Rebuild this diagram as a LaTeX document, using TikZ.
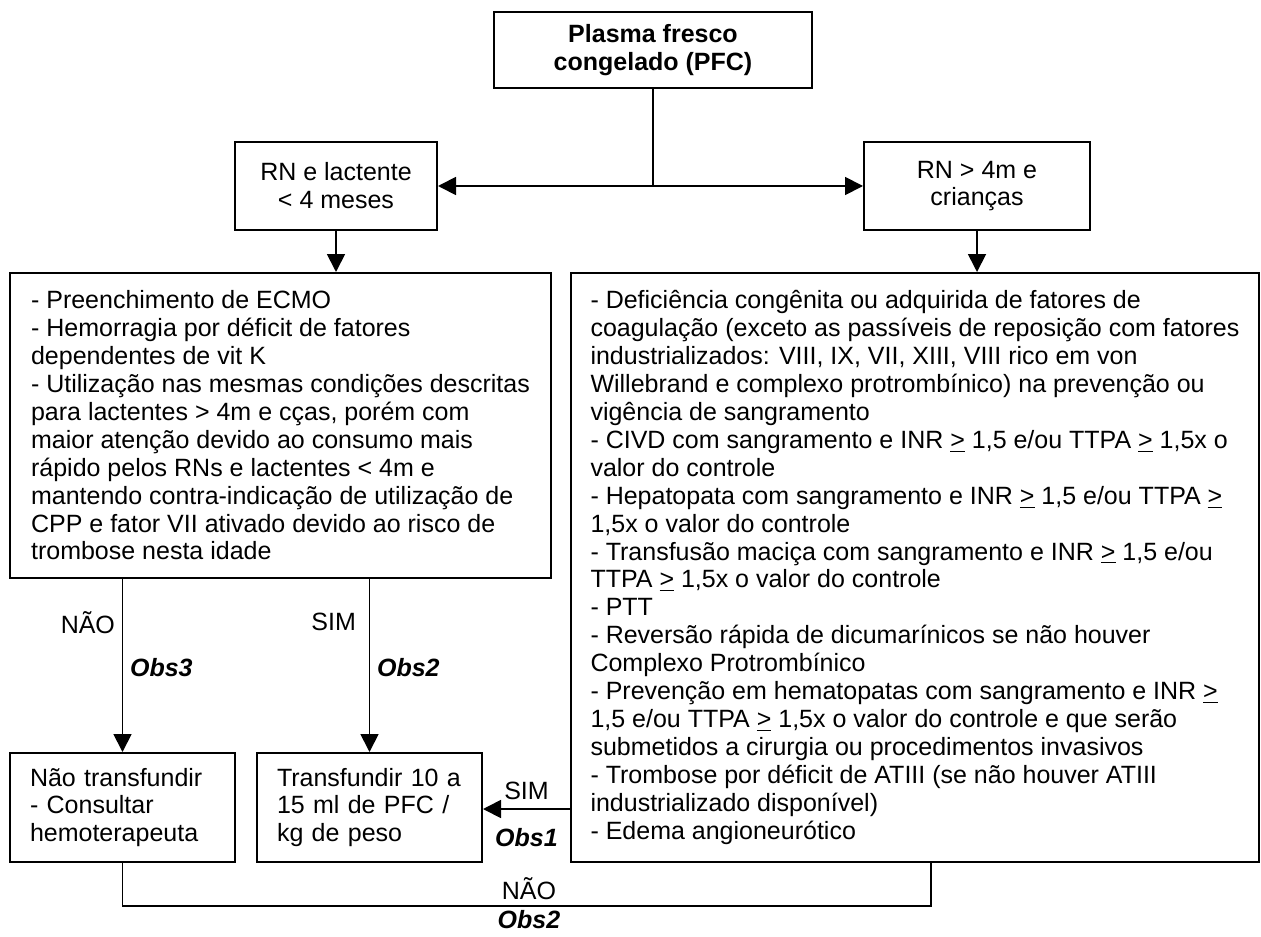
\documentclass[tikz,border=0pt]{standalone}
\usepackage{fontspec}
\setmainfont{Liberation Sans}
\usetikzlibrary{arrows.meta, positioning}
\newcommand{\ugt}{\underline{>}}
\tikzset{
  box/.style={rectangle, draw=black, line width=1pt, inner sep=0pt,
    align=center, font=\fontsize{12.5}{13.95}\selectfont},
  textbox/.style={box, align=left},
  smallbox/.style={box, align=left, text width=92.5pt, inner xsep=10pt,
    minimum height=54.5pt},
  arrow/.style={-{Triangle[length=9pt, width=9pt]}, line width=0.9pt},
  line/.style={line width=0.9pt},
  lbl/.style={font=\fontsize{12.5}{13.95}\selectfont},
  obs/.style={font=\fontsize{12.5}{13.95}\selectfont\bfseries\itshape}
}
\begin{document}
\begin{tikzpicture}[x=0.5pt, y=-0.5pt]
  \useasboundingbox (0,0) rectangle (1261,936);

  % top level
  \node[box, font=\fontsize{12.5}{13.95}\selectfont\bfseries,
    minimum width=159pt, minimum height=38pt] (pfc) at (653,50)
    {Plasma fresco\\congelado (PFC)};
  \node[box, minimum width=101pt, minimum height=44pt] (rn) at (336,186)
    {RN e lactente\\< 4 meses};
  \node[box, minimum width=113pt, minimum height=44pt] (crianca) at (977,186)
    {RN > 4m e\\crianças};

  % indications
  \node[textbox, minimum width=270.5pt, minimum height=152.5pt] (indmenor) at (280.5,425.5)
    {- Preenchimento de ECMO\\
     - Hemorragia por déficit de fatores\\
     dependentes de vit K\\
     - Utilização nas mesmas condições descritas\\
     para lactentes > 4m e cças, porém com\\
     maior atenção devido ao consumo mais\\
     rápido pelos RNs e lactentes < 4m e\\
     mantendo contra-indicação de utilização de\\
     CPP e fator VII ativado devido ao risco de\\
     trombose nesta idade};
  \node[textbox, minimum width=344pt, minimum height=294.5pt] (indmaior) at (915,567.5)
    {- Deficiência congênita ou adquirida de fatores de\\
     coagulação (exceto as passíveis de reposição com fatores\\
     industrializados: VIII, IX, VII, XIII, VIII rico em von\\
     Willebrand e complexo protrombínico) na prevenção ou\\
     vigência de sangramento\\
     - CIVD com sangramento e INR \ugt{} 1,5 e/ou TTPA \ugt{} 1,5x o\\
     valor do controle\\
     - Hepatopata com sangramento e INR \ugt{} 1,5 e/ou TTPA \ugt\\
     1,5x o valor do controle\\
     - Transfusão maciça com sangramento e INR \ugt{} 1,5 e/ou\\
     TTPA \ugt{} 1,5x o valor do controle\\
     - PTT\\
     - Reversão rápida de dicumarínicos se não houver\\
     Complexo Protrombínico\\
     - Prevenção em hematopatas com sangramento e INR \ugt\\
     1,5 e/ou TTPA \ugt{} 1,5x o valor do controle e que serão\\
     submetidos a cirurgia ou procedimentos invasivos\\
     - Trombose por déficit de ATIII (se não houver ATIII\\
     industrializado disponível)\\
     - Edema angioneurótico};

  % conduct
  \node[smallbox] (nao) at (122.5,807.5)
    {Não transfundir\\- Consultar\\hemoterapeuta};
  \node[smallbox] (transf) at (369.5,807.5)
    {Transfundir 10 a\\15 ml de PFC /\\kg de peso};

  % connectors
  \coordinate (split) at (pfc.south |- rn.east);
  \draw[line] (pfc.south) -- (split);
  \draw[arrow] (split) -- (rn.east);
  \draw[arrow] (split) -- (crianca.west);
  \draw[arrow] (rn.south) -- (rn.south |- indmenor.north);
  \draw[arrow] (crianca.south) -- (crianca.south |- indmaior.north);

  \draw[arrow] (nao.north |- indmenor.south) --
    node[lbl, pos=0.25, left] {NÃO}
    node[obs, pos=0.51, right] {Obs3} (nao.north);
  \draw[arrow] (transf.north |- indmenor.south) --
    node[lbl, pos=0.25, left=3pt] {SIM}
    node[obs, pos=0.51, right] {Obs2} (transf.north);

  \draw[arrow] (indmaior.west |- 0,809) --
    node[lbl, above=1pt] {SIM}
    node[obs, below=6pt] {Obs1} (transf.east |- 0,809);

  \draw[line] (nao.south) |- (931,906) coordinate (volta) -- (volta |- indmaior.south);
  \node[lbl] (naolbl) at (529,889) {NÃO};
  \node[obs] (obsfim) at (529,920) {Obs2};
\end{tikzpicture}
\end{document}
